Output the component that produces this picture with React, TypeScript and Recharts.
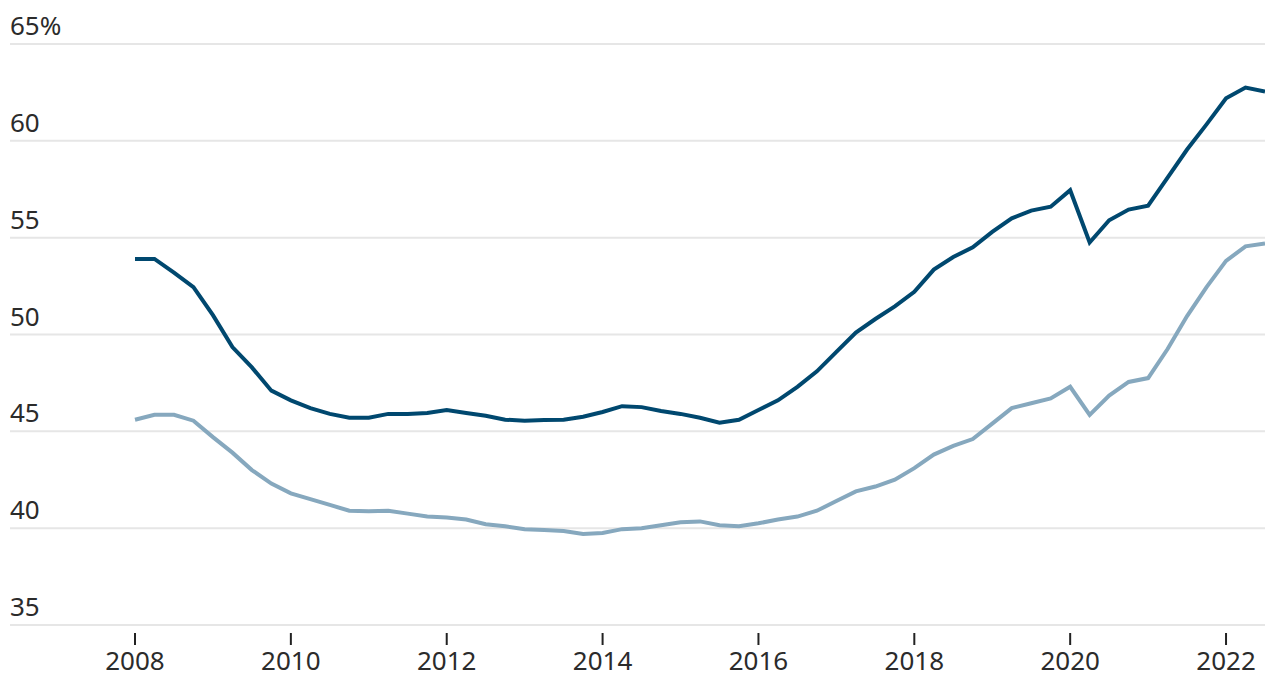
import React from 'react';
import { LineChart, Line, XAxis, YAxis, CartesianGrid } from 'recharts';

// quarters from 2008Q1 to 2022Q3
const quarters = [
  '2008Q1', '2008Q2', '2008Q3', '2008Q4',
  '2009Q1', '2009Q2', '2009Q3', '2009Q4',
  '2010Q1', '2010Q2', '2010Q3', '2010Q4',
  '2011Q1', '2011Q2', '2011Q3', '2011Q4',
  '2012Q1', '2012Q2', '2012Q3', '2012Q4',
  '2013Q1', '2013Q2', '2013Q3', '2013Q4',
  '2014Q1', '2014Q2', '2014Q3', '2014Q4',
  '2015Q1', '2015Q2', '2015Q3', '2015Q4',
  '2016Q1', '2016Q2', '2016Q3', '2016Q4',
  '2017Q1', '2017Q2', '2017Q3', '2017Q4',
  '2018Q1', '2018Q2', '2018Q3', '2018Q4',
  '2019Q1', '2019Q2', '2019Q3', '2019Q4',
  '2020Q1', '2020Q2', '2020Q3', '2020Q4',
  '2021Q1', '2021Q2', '2021Q3', '2021Q4',
  '2022Q1', '2022Q2', '2022Q3',
];

const upperSeries = [
  53.9, 53.9, 53.2, 52.45,
  51.0, 49.35, 48.3, 47.1,
  46.6, 46.2, 45.9, 45.7,
  45.7, 45.9, 45.9, 45.95,
  46.1, 45.95, 45.8, 45.6,
  45.55, 45.58, 45.6, 45.75,
  46.0, 46.3, 46.25, 46.05,
  45.9, 45.7, 45.45, 45.6,
  46.1, 46.6, 47.3, 48.1,
  49.1, 50.1, 50.8, 51.45,
  52.2, 53.35, 54.0, 54.5,
  55.3, 56.0, 56.4, 56.6,
  57.45, 54.75, 55.9, 56.45,
  56.65, 58.1, 59.55, 60.85,
  62.2, 62.75, 62.55,
];

const lowerSeries = [
  45.6, 45.85, 45.85, 45.55,
  44.7, 43.9, 43.0, 42.3,
  41.8, 41.5, 41.2, 40.9,
  40.87, 40.9, 40.75, 40.6,
  40.55, 40.45, 40.2, 40.1,
  39.95, 39.9, 39.85, 39.7,
  39.75, 39.95, 40.0, 40.15,
  40.3, 40.35, 40.15, 40.1,
  40.25, 40.45, 40.6, 40.9,
  41.4, 41.9, 42.15, 42.5,
  43.1, 43.8, 44.25, 44.6,
  45.4, 46.2, 46.45, 46.7,
  47.3, 45.85, 46.85, 47.55,
  47.75, 49.25, 50.95, 52.45,
  53.8, 54.55, 54.7,
];

const yTicks = [35, 40, 45, 50, 55, 60, 65];
const xTicks = [2008, 2010, 2012, 2014, 2016, 2018, 2020, 2022];

const toYear = (q: string) => parseInt(q.slice(0, 4)) + (parseInt(q.slice(5)) - 1) / 4;

const data = quarters.map((q, i) => ({
  t: toYear(q),
  upper: upperSeries[i],
  lower: lowerSeries[i],
}));

const FONT = '"Noto Sans", "Open Sans", sans-serif';
const TEXT = '#2b2b2b';
const FONT_SIZE = 26;

const YTick = (props: any) => {
  const { y, payload } = props;
  const label = payload.value === 65 ? '65%' : String(payload.value);
  return (
    <text x={2} y={y - 9} textAnchor='start' fontFamily={FONT} fontSize={FONT_SIZE} fill={TEXT}>
      {label}
    </text>
  );
};

const XTick = (props: any) => {
  const { x, y, payload } = props;
  return (
    <g>
      <line x1={x} x2={x} y1={y + 8} y2={y + 20} stroke='#222' strokeWidth={2} />
      <text x={x} y={y + 45} textAnchor='middle' fontFamily={FONT} fontSize={FONT_SIZE} fill={TEXT}>
        {payload.value}
      </text>
    </g>
  );
};

export default function App() {
  return (
    <div style={{ width: 1265, height: 670 }}>
      <LineChart width={1265} height={670} data={data} margin={{ top: 36, right: 0, left: 2, bottom: 8 }}>
        <CartesianGrid horizontal vertical={false} stroke='#e6e6e6' strokeWidth={2} />
        <XAxis
          dataKey='t'
          type='number'
          domain={[2008, 2022.5]}
          ticks={xTicks}
          padding={{ left: 125, right: 8 }}
          axisLine={false}
          tickLine={false}
          tickSize={0}
          tickMargin={0}
          height={45}
          tick={<XTick />}
          interval={0}
        />
        <YAxis
          type='number'
          domain={[35, 65]}
          ticks={yTicks}
          width={60}
          mirror
          axisLine={false}
          tickLine={false}
          tick={<YTick />}
          interval={0}
        />
        <Line
          type='linear'
          dataKey='lower'
          stroke='#86a8be'
          strokeWidth={4}
          dot={false}
          isAnimationActive={false}
        />
        <Line
          type='linear'
          dataKey='upper'
          stroke='#00486f'
          strokeWidth={4}
          dot={false}
          isAnimationActive={false}
        />
      </LineChart>
    </div>
  );
}
